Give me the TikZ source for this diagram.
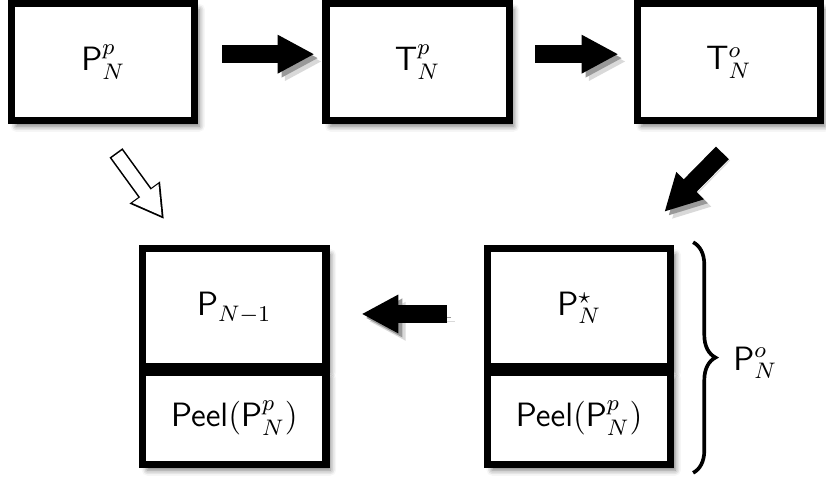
\documentclass[tikz,border=0pt,12pt]{standalone}
\usepackage{amsmath}
\usetikzlibrary{arrows.meta,calc,decorations.pathreplacing,shadows.blur}

\begin{document}
\begin{tikzpicture}[line join=miter,
  box/.style={draw,line width=2.5pt,fill=white,minimum width=2.29cm,
    blur shadow={shadow xshift=1.6pt,shadow yshift=-2pt,
      shadow blur radius=2pt,shadow opacity=55}},
  fat/.style={line width=.225cm,-{Triangle[length=.46cm,width=.45cm]},
    preaction={draw=black!15,transform canvas={shift={(2.6pt,-2.6pt)}}},
    preaction={draw=black!40,transform canvas={shift={(1.4pt,-1.4pt)}}}},
  hollowedge/.style={line width=.2cm,-{Triangle[length=.41cm,width=.44cm]}},
  hollowface/.style={white,line width=.16cm,shorten <=.02cm,shorten >=.045cm,
    -{Triangle[length=.35cm,width=.375cm]}},
  brace/.style={decorate,decoration={brace,amplitude=.28cm},line width=1.3pt}]
  \useasboundingbox (0,0) rectangle (10.325,5.9875);

  % Top row.
  \node[box,minimum height=1.46cm] (Pp) at (1.29,5.21) {$\mathsf{P}^p_N$};
  \node[box,minimum height=1.46cm] (Tp) at (5.22,5.21) {$\mathsf{T}^p_N$};
  \node[box,minimum height=1.46cm] (To) at (9.11,5.21) {$\mathsf{T}^o_N$};

  % Bottom row, two stacked pairs.
  \node[box,minimum height=1.475cm] (Pm) at (2.93,2.1375) {$\mathsf{P}_{N-1}$};
  \node[box,minimum height=1.15cm] (PeelL) at (2.93,.756)
    {$\mathsf{Peel}(\mathsf{P}^p_N)$};
  \node[box,minimum height=1.475cm] (Ps) at (7.24,2.1375) {$\mathsf{P}^\star_N$};
  \node[box,minimum height=1.15cm] (PeelR) at (7.24,.756)
    {$\mathsf{Peel}(\mathsf{P}^p_N)$};

  % Arrows.
  \draw[fat,shorten <=.3cm,shorten >=.1cm]
    ([yshift=1mm]Pp.east) -- ([yshift=1mm]Tp.west);
  \draw[fat,shorten <=.28cm,shorten >=.19cm]
    ([yshift=1mm]Tp.east) -- ([yshift=1mm]To.west);
  \coordinate (D1) at ($(To.south)+(-.08,-.36)$);
  \coordinate (D2) at ($(Ps.north east)+(-.125,.42)$);
  \draw[fat] (D1) -- (D2);
  \draw[fat,shorten <=.46cm,shorten >=.4cm]
    ([yshift=-.75mm]Ps.west) -- ([yshift=-.75mm]Pm.east);
  \coordinate (H1) at ($(Pp.south)+(.16,-.36)$);
  \coordinate (H2) at ($(Pm.north)+(-.88,.33)$);
  \draw[hollowedge] (H1) -- (H2);
  \draw[hollowface] (H1) -- (H2);

  % Brace round the right pair.
  \draw[brace] ($(Ps.north east)+(.235,.04)$) -- ($(PeelR.south east)+(.235,-.06)$);
  \node[anchor=base west,inner sep=0pt] (Po) at (9.16,1.36) {$\mathsf{P}^o_N$};
\end{tikzpicture}
\end{document}
